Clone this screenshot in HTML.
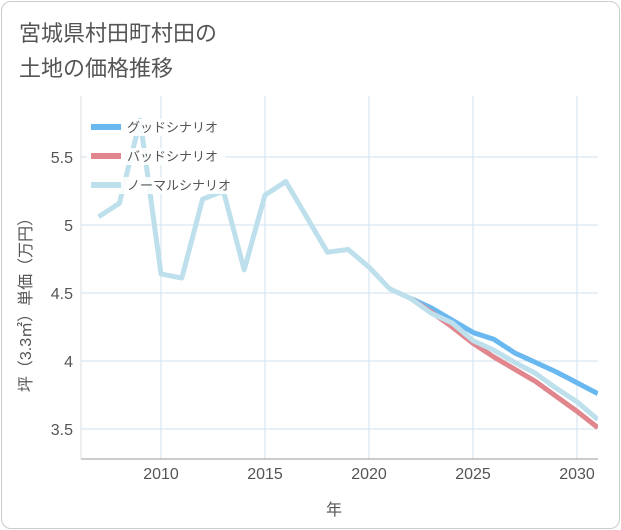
<!DOCTYPE html>
<html><head><meta charset="utf-8"><style>
body{margin:0;background:#fff;}
#card{position:absolute;left:1px;top:1px;width:617px;height:526px;border:1px solid #ccc;border-radius:10px;background:#fff;overflow:hidden;font-family:"Liberation Sans","Noto Sans CJK JP",sans-serif;}
#title{position:absolute;left:17px;top:14px;font-size:22px;line-height:35px;color:#555;}
</style></head><body>
<div id="card">
<div id="title">宮城県村田町村田の<br>土地の価格推移</div>
<svg id="chart" width="621" height="530" style="position:absolute;left:-1px;top:-1px"></svg>
</div>
<script>
const years=[2007,2008,2009,2010,2011,2012,2013,2014,2015,2016,2017,2018,2019,2020,2021,2022,2023,2024,2025,2026,2027,2028,2029,2030,2031];
const normal=[5.06,5.16,5.77,4.64,4.61,5.19,5.25,4.67,5.22,5.32,5.06,4.80,4.82,4.69,4.53,4.46,4.35,4.28,4.15,4.08,3.99,3.91,3.80,3.70,3.57];
const goodYears=[2022,2023,2024,2025,2026,2027,2028,2029,2030,2031];
const good=[4.46,4.39,4.30,4.21,4.16,4.06,3.99,3.92,3.84,3.76];
const bad=[4.46,4.36,4.25,4.13,4.03,3.94,3.85,3.74,3.63,3.51];
const xTicks=[2010,2015,2020,2025,2030];
const yTicks=[3.5,4,4.5,5,5.5];
const yTickLabels=["3.5","4","4.5","5","5.5"];
const seriesNames=["グッドシナリオ","バッドシナリオ","ノーマルシナリオ"];
const L=80,R=597,T=95,B=458;
const x=v=>160+(v-2010)*20.8;
const y=v=>224-(v-5)*136;
const svg=document.getElementById('chart');const NS='http://www.w3.org/2000/svg';
function mk(t,a,p){const e=document.createElementNS(NS,t);for(const k in a)e.setAttribute(k,a[k]);(p||svg).appendChild(e);return e;}
xTicks.forEach(v=>{const l=mk('line',{x1:x(v),x2:x(v),y1:T,y2:B,stroke:'#cfe2ec'});
const t=mk('text',{x:x(v),y:478,'text-anchor':'middle','font-size':16,fill:'#555'});t.textContent=v;});
yTicks.forEach((v,i)=>{const l=mk('line',{x1:L,x2:R,y1:y(v),y2:y(v),stroke:'#cfe2ec'});
const t=mk('text',{x:72,y:y(v)+6,'text-anchor':'end','font-size':16,fill:'#555'});t.textContent=yTickLabels[i];});
const ax=mk('line',{x1:L,x2:R,y1:B,y2:B,stroke:'#999'});
const ay=mk('line',{x1:L,x2:L,y1:T,y2:B,stroke:'#ddd'});
const xt=mk('text',{x:333,y:514,'text-anchor':'middle','font-size':16,fill:'#555'});xt.textContent='年';
const yt=mk('text',{x:0,y:0,'text-anchor':'middle','font-size':16,fill:'#555',transform:'translate(30,300) rotate(-90)'});yt.textContent='坪（3.3㎡）単価（万円）';
const defs=mk('defs',{});const cp=mk('clipPath',{id:'c'},defs);mk('rect',{x:L,y:T-40,width:R-L,height:B-T+40},cp);
function line(xs,ys,col,name){const p=mk('polyline',{points:xs.map((v,i)=>x(v)+','+y(ys[i])).join(' '),fill:'none',stroke:col,'stroke-width':5,'stroke-linejoin':'round','clip-path':'url(#c)'});}
line(goodYears,good,'#6ab8f0','good-scenario-line');
line(goodYears,bad,'#e0868c','bad-scenario-line');
line(years,normal,'#bde0ec','normal-scenario-line');
const cols=['#6ab8f0','#e0868c','#bde0ec'];
const lg=mk('g',{});
seriesNames.forEach((n,i)=>{const yy=126+i*29;mk('rect',{x:86,y:yy-8,width:[100,100,114][i]+38,height:17,fill:'#fff','fill-opacity':0.9},lg);
const r=mk('line',{x1:90,x2:120,y1:yy,y2:yy,stroke:cols[i],'stroke-width':6},lg);
const t=mk('text',{x:126,y:yy+5,'font-size':13,fill:'#555'},lg);t.textContent=n;});
</script>
</body></html>
